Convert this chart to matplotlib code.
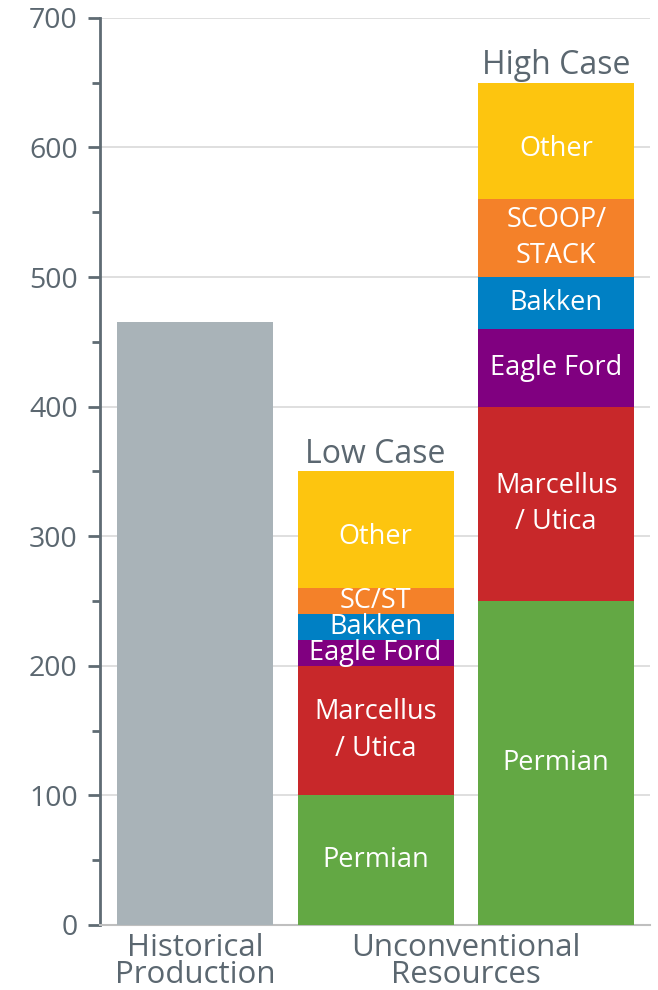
import numpy as np
import matplotlib.pyplot as plt
from matplotlib.ticker import MultipleLocator

# data
categories = ["Historical\nProduction", "Unconventional\nResources"]
historical = 465
segments = ["Permian", "Marcellus\n/ Utica", "Eagle Ford", "Bakken", "SCOOP/STACK", "Other"]
low_case = [100, 100, 20, 20, 20, 90]
high_case = [250, 150, 60, 40, 60, 90]
low_labels = ["Permian", "Marcellus\n/ Utica", "Eagle Ford", "Bakken", "SC/ST", "Other"]
high_labels = ["Permian", "Marcellus\n/ Utica", "Eagle Ford", "Bakken", "SCOOP/\nSTACK", "Other"]
colors = ["#63A844", "#C8282A", "#800080", "#0080C4", "#F48129", "#FDC50F"]

txt = "#5B6770"
plt.rcParams["font.family"] = ["Open Sans", "DejaVu Sans"]

fig = plt.figure(figsize=(6.58, 9.9), dpi=100)
ax = fig.add_axes([0.152, 0.0657, 0.836, 0.9163])

w = 0.864
ax.bar(0, historical, width=w, color="#A9B3B8", zorder=3)

for x, vals, labs in [(1, low_case, low_labels), (2, high_case, high_labels)]:
    bottom = 0
    for i, (v, c, lab) in enumerate(zip(vals, colors, labs)):
        ax.bar(x, v, width=w, bottom=bottom, color=c, zorder=3)
        # top label sits a bit low in the original
        off = -6 if i == len(vals) - 1 else 0
        ax.text(x, bottom + v / 2 + off, lab, ha="center", va="center", color="white",
                fontsize=19.5, linespacing=1.4, zorder=4)
        bottom += v
    ax.text(x, bottom + 0.5, "Low Case" if x == 1 else "High Case", ha="center", va="bottom",
            color=txt, fontsize=23)

ax.set_ylim(0, 700)
ax.set_xlim(-0.526, 2.52)
ax.yaxis.set_major_locator(MultipleLocator(100))
ax.yaxis.set_minor_locator(MultipleLocator(50))
ax.grid(axis="y", color="#D9D9D9", linewidth=1.2, zorder=0)
ax.tick_params(axis="y", which="major", length=9, width=2, color="#5F6B73",
               labelsize=20.5, labelcolor=txt, pad=7)
ax.tick_params(axis="y", which="minor", length=6, width=2, color="#5F6B73")
ax.set_xticks([])

for s in ["top", "right"]:
    ax.spines[s].set_visible(False)
ax.spines["left"].set_color("#5F6B73")
ax.spines["left"].set_linewidth(2)
ax.spines["bottom"].set_color("#BFBFBF")
ax.spines["bottom"].set_linewidth(1.5)

for x, lab in zip([0, 1.5], categories):
    ax.text(x, -6, lab, ha="center", va="top", color=txt, fontsize=22.5, linespacing=0.88)

fig.savefig("out.png", dpi=100)
